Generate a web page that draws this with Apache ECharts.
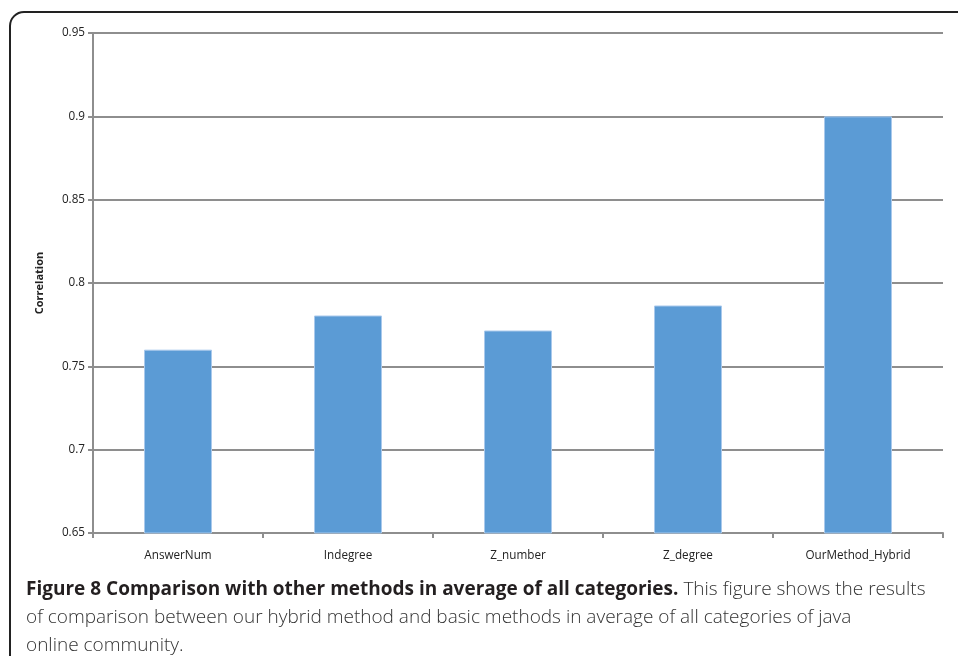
<!DOCTYPE html>
<html>
<head>
<meta charset="utf-8">
<script src="https://cdn.jsdelivr.net/npm/echarts@6/dist/echarts.min.js"></script>
<style>
    html, body { margin: 0; padding: 0; background: #fff; }
    #chart { width: 958px; height: 656px; }
</style>
</head>
<body>
<div id="chart"></div>
<script>
// values
const methods = ['AnswerNum', 'Indegree', 'Z_number', 'Z_degree', 'OurMethod_Hybrid'];
const correlation = [0.76, 0.7805, 0.7715, 0.7865, 0.90];
const yTicks = { min: 0.65, max: 0.95, step: 0.05 };

const chart = echarts.init(document.getElementById('chart'));
const gridColor = '#8e8e8e';

chart.setOption({
    animation: false,
    grid: {
        left: 93,
        right: 15,
        top: 33,
        bottom: 123
    },
    xAxis: {
        type: 'category',
        data: methods,
        axisLine: {
            lineStyle: { color: gridColor, width: 2 }
        },
        axisTick: {
            show: true,
            length: 5,
            lineStyle: { color: gridColor, width: 2 }
        },
        axisLabel: {
            color: '#222',
            fontFamily: 'Open Sans',
            fontSize: 11.7,
            margin: 17
        }
    },
    yAxis: {
        type: 'value',
        min: yTicks.min,
        max: yTicks.max,
        interval: yTicks.step,
        name: 'Correlation',
        nameLocation: 'middle',
        nameGap: 48,
        nameTextStyle: {
            color: '#222',
            fontFamily: 'Open Sans',
            fontSize: 11,
            fontWeight: 'bold'
        },
        axisLine: {
            show: true,
            lineStyle: { color: gridColor, width: 2 }
        },
        axisTick: {
            show: true,
            length: 5,
            lineStyle: { color: gridColor, width: 2 }
        },
        splitLine: {
            lineStyle: { color: gridColor, width: 2 }
        },
        axisLabel: {
            color: '#222',
            fontFamily: 'Open Sans',
            fontSize: 11.7,
            margin: 8,
            formatter: v => String(+v.toFixed(2))
        }
    },
    series: [
        {
            type: 'bar',
            data: correlation,
            barWidth: '40%',
            itemStyle: {
                color: '#5b9bd5',
                borderColor: '#a9c9ec',
                borderWidth: 1
            }
        }
    ],
    graphic: [
        {
            type: 'rect',
            shape: { x: 10, y: 12, width: 1000, height: 700, r: [14, 0, 0, 0] },
            style: { fill: 'none', stroke: '#222', lineWidth: 2 },
            silent: true
        },
        {
            type: 'text',
            left: 26,
            top: 580,
            style: {
                text: '{b|Figure 8 Comparison with other methods in average of all categories.}{n| This figure shows the results}\n' +
                    '{n|of comparison between our hybrid method and basic methods in average of all categories of java}\n' +
                    '{n|online community.}',
                rich: {
                    b: { fontFamily: 'Open Sans', fontSize: 19, fontWeight: 'bold', fill: '#231f20', lineHeight: 28 },
                    n: { fontFamily: 'Open Sans', fontSize: 19, fontWeight: 300, fill: '#333', lineHeight: 28 }
                }
            }
        }
    ]
});
</script>
</body>
</html>
